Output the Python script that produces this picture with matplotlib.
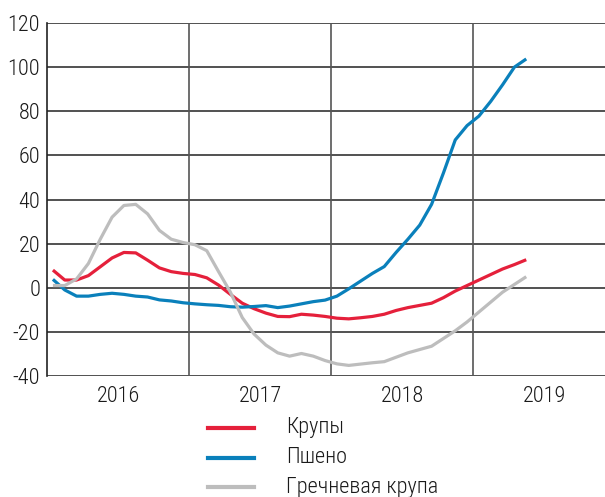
import matplotlib
matplotlib.use("Agg")
import matplotlib.pyplot as plt
from matplotlib import font_manager
from matplotlib.lines import Line2D
import numpy as np

# ---- data (monthly, Jan 2016 .. May 2019), % change y/y ----
krupy = [8, 3.5, 3.5, 5.5, 9.5, 13.5, 16, 15.8, 12.5, 9, 7.3, 6.5,
         6, 4.5, 1.2, -3, -7, -9.5, -11.5, -13, -13.1, -12, -12.4, -13,
         -13.8, -14.1, -13.6, -13, -12, -10.3, -9, -8, -7, -4.5, -1.5, 1,
         3.5, 6, 8.5, 10.5, 12.7]
psheno = [3.8, -1, -3.8, -3.8, -3, -2.5, -3, -3.8, -4.2, -5.5, -6, -6.8,
          -7.3, -7.7, -8, -8.6, -8.8, -8.5, -8.1, -9, -8.3, -7.3, -6.3, -5.6,
          -3.8, -0.5, 3, 6.5, 9.6, 16, 22, 28.4, 37.8, 52, 67, 73.5,
          77.8, 84.5, 92, 100, 103.7]
grechka = [1, 1, 4, 11, 22, 32, 37.3, 37.8, 33.5, 26, 22, 20.5,
           19.5, 16.8, 7.3, -2, -13.5, -21, -26, -29.5, -31, -29.8, -31, -33,
           -34.5, -35.2, -34.6, -34, -33.5, -31.5, -29.5, -28, -26.5, -23, -19.5, -15.5,
           -11, -6.5, -2, 1.5, 5]
start_year = 2016
series_names = ["Крупы", "Пшено", "Гречневая крупа"]
year_labels = ["2016", "2017", "2018", "2019"]
y_ticks = [-40, -20, 0, 20, 40, 60, 80, 100, 120]

colors = ["#E5203B", "#0A80BB", "#BDBDBD"]

# ---- font ----
avail = {f.name for f in font_manager.fontManager.ttflist}
family = "DejaVu Sans"
for cand in ["Roboto Condensed", "Liberation Sans Narrow", "DejaVu Sans Condensed",
             "Open Sans Condensed", "Liberation Sans"]:
    if cand in avail:
        family = cand
        break
plt.rcParams["font.family"] = [family, "DejaVu Sans"]
FS = 16
FW = "light"
TC = "#1a1a1a"

W, H = 605, 497
fig = plt.figure(figsize=(W / 100, H / 100), dpi=100)
ax = fig.add_axes([47 / W, (H - 376) / H, (W - 47) / W, 353 / H])

n = len(krupy)
x = start_year + (np.arange(n) + 0.5) / 12.0
lines = []
for vals, c, name in zip([krupy, psheno, grechka], colors, series_names):
    ln, = ax.plot(x, vals, color=c, lw=2.3, solid_joinstyle="round",
                  solid_capstyle="butt", label=name, zorder=3)
    lines.append(ln)

ax.set_ylim(-40, 120)
ax.set_xlim(start_year, start_year + (W - 47) / 142.0)
ax.set_yticks(y_ticks)
ax.set_yticklabels([str(v) for v in y_ticks], fontsize=FS, fontweight=FW)
for v in y_ticks:
    ax.axhline(v, color="#333333", lw=1.2, zorder=1)
years = [start_year + k for k in range(len(year_labels))]
for yv in years[1:]:
    ax.axvline(yv, color="#555555", lw=1.2, zorder=1)
ax.set_xticks([yv + 0.5 for yv in years])
ax.set_xticklabels(year_labels, fontsize=FS, fontweight=FW)
ax.tick_params(axis="both", length=0, colors=TC)
ax.tick_params(axis="y", pad=5)
ax.tick_params(axis="x", pad=7)
for s in ["top", "right", "bottom"]:
    ax.spines[s].set_visible(False)
ax.spines["left"].set_color("#222222")
ax.spines["left"].set_linewidth(1.2)

# ---- legend ----
rows_y = [428, 457.5, 487]
for ln, name, yy in zip(lines, series_names, rows_y):
    fy = 1 - yy / H
    fig.add_artist(Line2D([208 / W, 254 / W], [fy, fy], color=ln.get_color(),
                          lw=3, transform=fig.transFigure))
    fig.text(286 / W, fy, name, fontsize=FS, fontweight=FW, va="center",
             ha="left", color=TC)

fig.savefig("out.png", dpi=100)
